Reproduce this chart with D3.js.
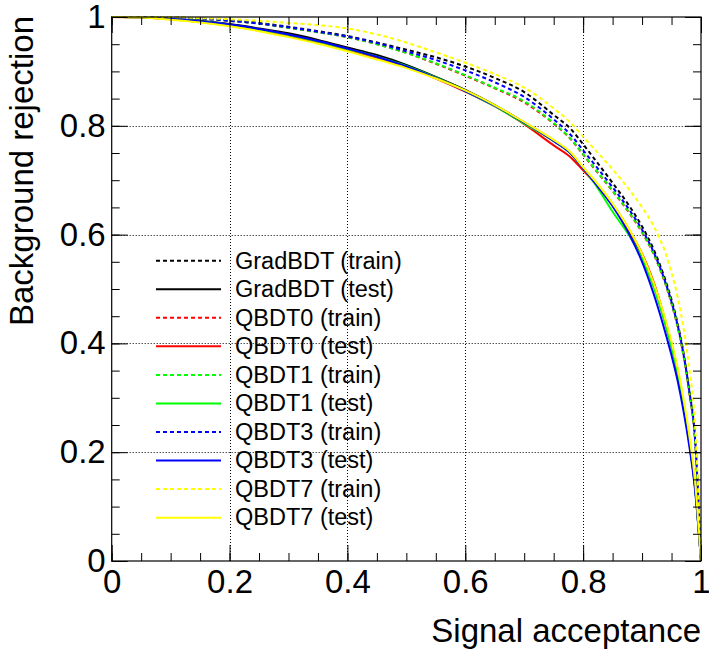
<!DOCTYPE html>
<html><head><meta charset="utf-8">
<script src="https://cdn.jsdelivr.net/npm/d3@7"></script>
<style>body{margin:0;background:#fff} svg{display:block}</style>
</head><body>
<script>
// ---- data ----
const acceptance = [0,0.05,0.1,0.15,0.2,0.25,0.3,0.35,0.4,0.45,0.5,0.55,0.6,0.65,0.7,0.75,0.78,0.8,0.82,0.85,0.88,0.9,0.92,0.94,0.95,0.96,0.97,0.98,0.99,1.0];

const gradTrain  = [1,1.0,0.999,0.997,0.994,0.989,0.982,0.974,0.965,0.953,0.940,0.926,0.909,0.888,0.862,0.820,0.793,0.766,0.738,0.695,0.650,0.615,0.572,0.515,0.480,0.438,0.385,0.315,0.225,0];
const gradTest   = [1,0.9995,0.997,0.993,0.987,0.979,0.970,0.958,0.944,0.930,0.912,0.890,0.866,0.838,0.806,0.772,0.748,0.722,0.697,0.655,0.603,0.560,0.505,0.435,0.395,0.348,0.290,0.220,0.135,0];
const qbdt0Train = [1,1.0,0.999,0.997,0.993,0.988,0.980,0.972,0.963,0.950,0.934,0.914,0.892,0.869,0.843,0.804,0.774,0.747,0.720,0.680,0.637,0.604,0.563,0.508,0.473,0.432,0.379,0.310,0.220,0];
const qbdt0Test  = [1,0.999,0.996,0.991,0.984,0.975,0.965,0.953,0.939,0.925,0.908,0.887,0.863,0.836,0.803,0.764,0.741,0.718,0.695,0.655,0.605,0.565,0.512,0.440,0.400,0.352,0.293,0.222,0.136,0];
const qbdt1Train = [1,1.0,0.999,0.997,0.993,0.988,0.980,0.972,0.963,0.950,0.934,0.915,0.893,0.870,0.845,0.805,0.775,0.748,0.721,0.681,0.638,0.605,0.564,0.509,0.474,0.433,0.380,0.311,0.221,0];
const qbdt1Test  = [1,0.9995,0.997,0.992,0.986,0.977,0.967,0.955,0.941,0.927,0.910,0.889,0.864,0.836,0.804,0.772,0.748,0.722,0.693,0.642,0.595,0.556,0.503,0.434,0.394,0.347,0.289,0.219,0.134,0];
const qbdt3Train = [1,1.0,0.999,0.997,0.993,0.988,0.981,0.973,0.964,0.952,0.937,0.921,0.902,0.880,0.853,0.812,0.782,0.755,0.728,0.687,0.643,0.609,0.567,0.511,0.476,0.435,0.382,0.313,0.223,0];
const qbdt3Test  = [1,0.9995,0.997,0.992,0.986,0.978,0.968,0.956,0.942,0.927,0.909,0.888,0.864,0.837,0.806,0.772,0.748,0.722,0.695,0.652,0.597,0.550,0.490,0.418,0.378,0.333,0.278,0.212,0.130,0];
const qbdt7Train = [1,1.0,1.0,0.998,0.996,0.993,0.989,0.985,0.979,0.968,0.953,0.935,0.916,0.895,0.870,0.832,0.804,0.780,0.756,0.720,0.680,0.650,0.615,0.565,0.530,0.487,0.430,0.355,0.250,0];
const qbdt7Test  = [1,0.999,0.995,0.990,0.983,0.974,0.963,0.951,0.937,0.922,0.906,0.887,0.865,0.838,0.807,0.774,0.750,0.724,0.699,0.657,0.606,0.564,0.510,0.442,0.403,0.357,0.300,0.232,0.145,0];

const seriesNames = ["GradBDT (train)","GradBDT (test)","QBDT0 (train)","QBDT0 (test)","QBDT1 (train)","QBDT1 (test)","QBDT3 (train)","QBDT3 (test)","QBDT7 (train)","QBDT7 (test)"];
const seriesValues = [gradTrain,gradTest,qbdt0Train,qbdt0Test,qbdt1Train,qbdt1Test,qbdt3Train,qbdt3Test,qbdt7Train,qbdt7Test];
const seriesColors = ["#000000","#000000","#ff0000","#ff0000","#00ff00","#00ff00","#0000ff","#0000ff","#ffff00","#ffff00"];
const seriesDashed = [true,false,true,false,true,false,true,false,true,false];

const majorTicks = [0,0.2,0.4,0.6,0.8,1];
const tickLabels = ["0","0.2","0.4","0.6","0.8","1"];
const minorTicks = d3.range(0,21).map(i => i/20);
const gridTicks = [0.2,0.4,0.6,0.8];

// ---- layout ----
const W = 709, H = 658;
const L = 111.7, R = 701, T = 17, B = 561;
const FONT = "'Liberation Sans', Arial, Helvetica, sans-serif";

const svg = d3.select("body").append("svg").attr("width", W).attr("height", H)
  .style("font-family", FONT);

const x = d3.scaleLinear().domain([0,1]).range([L,R]);
const y = d3.scaleLinear().domain([0,1]).range([B,T]);

// grid
const grid = svg.append("g").attr("stroke","#000").attr("stroke-width",1).attr("stroke-dasharray","1,2");
grid.selectAll("line.v").data(gridTicks).join("line").attr("class","v")
  .attr("x1", d => Math.round(x(d))+0.5).attr("x2", d => Math.round(x(d))+0.5).attr("y1", T).attr("y2", B);
grid.selectAll("line.h").data(gridTicks).join("line").attr("class","h")
  .attr("y1", d => Math.round(y(d))+0.5).attr("y2", d => Math.round(y(d))+0.5).attr("x1", L).attr("x2", R);

// curves
const line = d3.line().x((d,i) => x(acceptance[i])).y(d => y(d)).curve(d3.curveMonotoneX);
const curves = svg.append("g").attr("fill","none");
seriesValues.forEach((vals, k) => {
  curves.append("path").datum(vals)
    .attr("d", line)
    .attr("stroke", seriesColors[k])
    .attr("stroke-width", 2)
    .attr("stroke-dasharray", seriesDashed[k] ? "4,3" : null);
});

// axes (inward ticks on all sides)
function styleAxis(g){ g.select(".domain").remove(); g.selectAll("line").attr("stroke","#000"); }
const fmt = (d) => tickLabels[majorTicks.indexOf(d)];

svg.append("g").attr("transform",`translate(0,${B})`)
  .call(d3.axisBottom(x).tickValues(minorTicks).tickSize(-8).tickFormat(""))
  .call(styleAxis);
svg.append("g").attr("transform",`translate(0,${B})`)
  .call(d3.axisBottom(x).tickValues(majorTicks).tickSize(-16).tickPadding(9).tickFormat(fmt))
  .call(styleAxis)
  .call(g => g.selectAll("text").attr("font-size",33).attr("font-family",FONT).attr("fill","#000"));

svg.append("g").attr("transform",`translate(0,${T})`)
  .call(d3.axisTop(x).tickValues(minorTicks).tickSize(-8).tickFormat(""))
  .call(styleAxis);
svg.append("g").attr("transform",`translate(0,${T})`)
  .call(d3.axisTop(x).tickValues(majorTicks).tickSize(-16).tickFormat(""))
  .call(styleAxis);

svg.append("g").attr("transform",`translate(${L},0)`)
  .call(d3.axisLeft(y).tickValues(minorTicks).tickSize(-8).tickFormat(""))
  .call(styleAxis);
svg.append("g").attr("transform",`translate(${L},0)`)
  .call(d3.axisLeft(y).tickValues(majorTicks).tickSize(-16).tickPadding(6).tickFormat(fmt))
  .call(styleAxis)
  .call(g => g.selectAll("text").attr("font-size",33).attr("font-family",FONT).attr("fill","#000"));

svg.append("g").attr("transform",`translate(${R},0)`)
  .call(d3.axisRight(y).tickValues(minorTicks).tickSize(-8).tickFormat(""))
  .call(styleAxis);
svg.append("g").attr("transform",`translate(${R},0)`)
  .call(d3.axisRight(y).tickValues(majorTicks).tickSize(-16).tickFormat(""))
  .call(styleAxis);

// frame
svg.append("rect").attr("x",L).attr("y",T).attr("width",R-L).attr("height",B-T)
  .attr("fill","none").attr("stroke","#000").attr("stroke-width",1.2);

// axis titles
svg.append("text").attr("x", R).attr("y", 642).attr("text-anchor","end")
  .attr("font-size",33).text("Signal acceptance");
svg.append("text").attr("transform","translate(33,16) rotate(-90)").attr("text-anchor","end")
  .attr("font-size",33).text("Background rejection");

// legend
const legend = svg.append("g");
const row0 = 260.7, rowStep = 28.55;
seriesNames.forEach((name, k) => {
  const ry = row0 + k*rowStep;
  legend.append("line").attr("x1",156).attr("x2",221).attr("y1",ry).attr("y2",ry)
    .attr("stroke", seriesColors[k]).attr("stroke-width",2)
    .attr("stroke-dasharray", seriesDashed[k] ? "4,3" : null);
  legend.append("text").attr("x",235).attr("y",ry+7.8).attr("font-size",23.5).text(name);
});
</script>
</body></html>
